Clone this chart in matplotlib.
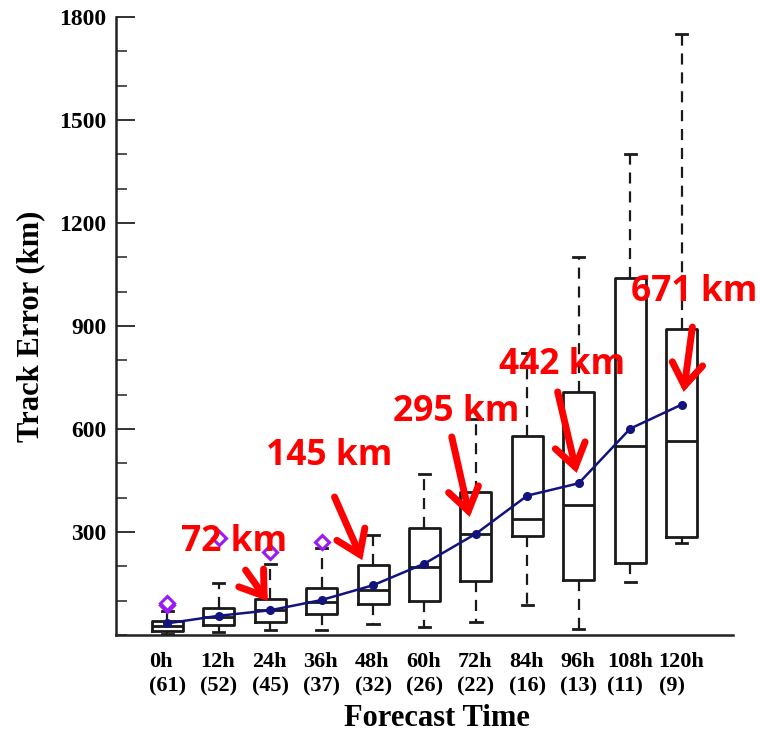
import matplotlib
matplotlib.use("Agg")
import matplotlib.pyplot as plt
from matplotlib.ticker import MultipleLocator

# ---- data ----
hours = ["0h", "12h", "24h", "36h", "48h", "60h", "72h", "84h", "96h", "108h", "120h"]
counts = [61, 52, 45, 37, 32, 26, 22, 16, 13, 11, 9]
whislo = [3, 9, 15, 15, 31, 24, 37, 87, 17, 153, 269]
q1 = [13, 29, 37, 60, 89, 99, 156, 289, 160, 211, 286]
med = [27, 51, 73, 95, 131, 199, 295, 338, 379, 551, 565]
q3 = [42, 80, 104, 138, 204, 311, 417, 580, 709, 1041, 891]
whishi = [71, 152, 206, 253, 290, 469, 628, 820, 1102, 1400, 1752]
means = [34, 56, 72, 102, 145, 208, 295, 406, 442, 601, 671]
outliers = [[88, 93], [282], [243], [272], [], [], [], [], [], [], []]

label_vals = [72, 145, 295, 442, 671]
# annotation placement: (text x, text y, arrow tail x, tail y, tip x, tip y) in data units
label_pos = [
    (1.30, 272, 1.52, 189, 1.95, 99),
    (3.15, 521, 3.25, 402, 3.79, 218),
    (5.62, 650, 5.53, 577, 5.88, 344),
    (7.68, 786, 7.59, 708, 7.96, 472),
    (10.25, 999, 10.21, 897, 10.04, 708),
]

fig = plt.figure(figsize=(7.6, 7.37), dpi=100)
ax = fig.add_axes([0.1526, 0.1384, 0.8119, 0.8385])

positions = list(range(len(hours)))
stats = []
for i in positions:
    stats.append(dict(med=med[i], q1=q1[i], q3=q3[i], whislo=whislo[i],
                      whishi=whishi[i], fliers=outliers[i], mean=means[i]))

ax.bxp(stats, positions=positions, widths=0.6, capwidths=0.22,
       showmeans=False, showfliers=True,
       boxprops=dict(color="#1a1a1a", linewidth=2.0),
       medianprops=dict(color="#1a1a1a", linewidth=2.0),
       whiskerprops=dict(color="#1a1a1a", linewidth=1.6, linestyle=(0, (5, 3.5))),
       capprops=dict(color="#1a1a1a", linewidth=2.0),
       flierprops=dict(marker="D", markersize=7, markerfacecolor="white",
                       markeredgecolor="#9b19f5", markeredgewidth=2.2))

ax.plot(positions, means, color="#13137f", linewidth=1.8, marker="o",
        markersize=5.5, zorder=5)

# annotations
for val, (tx, ty, ax0, ay0, ax1, ay1) in zip(label_vals, label_pos):
    ax.text(tx, ty, f"{val} km", color="#ff0000", fontsize=25.5,
            fontweight="bold", family="Open Sans", ha="center", va="center",
            zorder=6)
    ax.annotate("", xy=(ax1, ay1), xytext=(ax0, ay0),
                arrowprops=dict(arrowstyle="->,head_length=0.8,head_width=0.55",
                                color="#ff0000", lw=5, mutation_scale=20,
                                shrinkA=0, shrinkB=0, joinstyle="miter"),
                zorder=6)

ax.set_xlim(-1, 11)
ax.set_ylim(0, 1800)
ax.set_yticks([300, 600, 900, 1200, 1500, 1800])
ax.yaxis.set_minor_locator(MultipleLocator(100))
ax.set_xticks(positions)
ax.set_xticklabels([f"{h}\n({c})" for h, c in zip(hours, counts)],
                   fontfamily="Liberation Serif", fontweight="bold",
                   fontsize=16, multialignment="left", linespacing=1.35)
for lab in ax.get_yticklabels():
    lab.set_fontfamily("Liberation Serif")
    lab.set_fontweight("bold")
    lab.set_fontsize(17)

ax.tick_params(axis="y", which="major", direction="in", length=14, width=1.3,
               pad=7, color="#222222")
ax.tick_params(axis="y", which="minor", direction="in", length=8, width=1.1,
               color="#222222")
ax.tick_params(axis="x", which="both", length=0, pad=12)

for s in ["top", "right"]:
    ax.spines[s].set_visible(False)
for s in ["left", "bottom"]:
    ax.spines[s].set_linewidth(1.8)
    ax.spines[s].set_color("#222222")

ax.set_ylabel("Track Error (km)", fontfamily="Liberation Serif",
              fontweight="bold", fontsize=22)
ax.yaxis.set_label_coords(-0.115, 0.5)
ax.set_xlabel("Forecast Time", fontfamily="Liberation Serif",
              fontweight="bold", fontsize=22)
ax.xaxis.set_label_coords(0.52, -0.112)

fig.savefig("out.png", dpi=100)
